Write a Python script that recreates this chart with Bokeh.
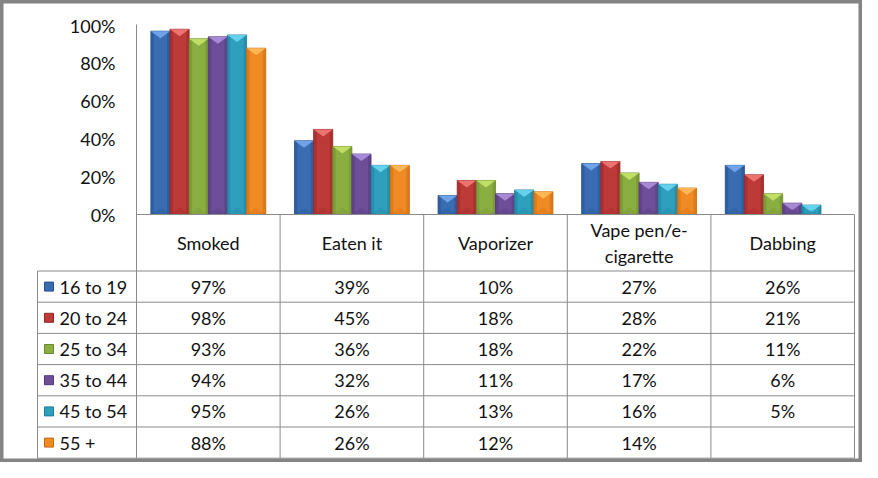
from bokeh.plotting import figure
from bokeh.models import Range1d
from bokeh.core.properties import value
from bokeh.embed import file_html
from bokeh.resources import INLINE

# ---------------- data ----------------
categories = ["Smoked", "Eaten it", "Vaporizer", "Vape pen/e-cigarette", "Dabbing"]
header_labels = ["Smoked", "Eaten it", "Vaporizer", "Vape pen/e-\ncigarette", "Dabbing"]
series_names = ["16 to 19", "20 to 24", "25 to 34", "35 to 44", "45 to 54", "55 +"]
v_16_19 = [0.97, 0.39, 0.10, 0.27, 0.26]
v_20_24 = [0.98, 0.45, 0.18, 0.28, 0.21]
v_25_34 = [0.93, 0.36, 0.18, 0.22, 0.11]
v_35_44 = [0.94, 0.32, 0.11, 0.17, 0.06]
v_45_54 = [0.95, 0.26, 0.13, 0.16, 0.05]
v_55_up = [0.88, 0.26, 0.12, 0.14, None]
series_values = [v_16_19, v_20_24, v_25_34, v_35_44, v_45_54, v_55_up]
y_ticks = [0.0, 0.2, 0.4, 0.6, 0.8, 1.0]
y_tick_labels = ["0%", "20%", "40%", "60%", "80%", "100%"]

# ---------------- styles ----------------
colors = ["#3A6CB2", "#BC3A38", "#8BAE42", "#6E4E99", "#2E9FBD", "#EF8A25"]
dark = ["#24508C", "#952827", "#6A8A2C", "#51377A", "#1C7C96", "#C8690F"]
light = ["#76AAEE", "#F27A78", "#C6E46C", "#AE90DC", "#6AD6F2", "#FFBA5C"]
FONT = value("Lato")
FSIZE = "18px"
TXT = "#111111"
GRID = "#8A8A8A"

# ---------------- layout (pixels) ----------------
W, H = 862, 462
PLOT_L, PLOT_R = 136, 854
ZERO_Y, TOP_Y = 214, 25
TABLE_L = 37
HEAD_B = 270.5
ROW_H = 31.2
n_cat = len(categories)
n_ser = len(series_names)
cat_w = (PLOT_R - PLOT_L) / n_cat
ppu_y = ZERO_Y - TOP_Y

p = figure(width=W, height=H, output_backend="svg", toolbar_location=None,
           x_axis_location=None, y_axis_location=None, min_border=0,
           x_range=Range1d(-PLOT_L / cat_w, (W - PLOT_L) / cat_w),
           y_range=Range1d(-(H - ZERO_Y) / ppu_y, ZERO_Y / ppu_y))
p.extra_x_ranges = {"px": Range1d(0, W)}
p.extra_y_ranges = {"px": Range1d(H, 0)}
p.grid.visible = False
p.background_fill_color = "white"
p.border_fill_color = "white"
p.outline_line_color = "#848484"
p.outline_line_width = 6

group_w = 0.8
bw = group_w / n_ser
side = 3.0 / cat_w
tri = 7.0 / ppu_y

# ---------------- bars ----------------
for j, (vals, c, dk, lt) in enumerate(zip(series_values, colors, dark, light)):
    xs, tops = [], []
    for i, v in enumerate(vals):
        if v is None:
            continue
        xs.append(i + 0.5 + (j - (n_ser - 1) / 2) * bw)
        tops.append(v)
    p.vbar(x=xs, top=tops, bottom=0, width=bw, fill_color=c, line_color=dk, line_width=0.8)
    # side bevels
    p.vbar(x=[x - bw / 2 + side / 2 for x in xs], top=tops, bottom=0, width=side,
           fill_color=dk, fill_alpha=0.45, line_color=None)
    p.vbar(x=[x + bw / 2 - side / 2 for x in xs], top=tops, bottom=0, width=side,
           fill_color=dk, fill_alpha=0.45, line_color=None)
    # top bevel triangle
    p.patches(xs=[[x - bw / 2, x + bw / 2, x] for x in xs],
              ys=[[t, t, t - min(tri, t * 0.8)] for t in tops],
              fill_color=lt, fill_alpha=0.9, line_color=None)
    # bottom bevel triangle
    p.patches(xs=[[x - bw / 2, x + bw / 2, x] for x in xs],
              ys=[[0, 0, min(tri, t * 0.5)] for t in tops],
              fill_color=dk, fill_alpha=0.25, line_color=None)

# ---------------- y axis labels ----------------
p.text(x=[115] * len(y_ticks), y=y_ticks, text=y_tick_labels, x_range_name="px",
       text_font=FONT, text_font_size=FSIZE, text_color=TXT,
       text_align="right", text_baseline="middle")

# ---------------- table lines ----------------
row_lines = [HEAD_B + k * ROW_H for k in range(n_ser + 1)]
x0, x1, y0, y1 = [], [], [], []
x0.append(PLOT_L); x1.append(PLOT_R); y0.append(ZERO_Y); y1.append(ZERO_Y)
for yy in row_lines:
    x0.append(TABLE_L); x1.append(PLOT_R); y0.append(yy); y1.append(yy)
x0.append(PLOT_L); x1.append(PLOT_L); y0.append(TOP_Y - 1); y1.append(row_lines[-1])
x0.append(TABLE_L); x1.append(TABLE_L); y0.append(HEAD_B); y1.append(row_lines[-1])
for i in range(1, n_cat + 1):
    xx = PLOT_L + i * cat_w
    x0.append(xx); x1.append(xx); y0.append(ZERO_Y); y1.append(row_lines[-1])
p.segment(x0=x0, y0=y0, x1=x1, y1=y1, x_range_name="px", y_range_name="px",
          line_color=GRID, line_width=1)

# ---------------- table header ----------------
p.text(x=[i + 0.5 for i in range(n_cat)], y=[(ZERO_Y + HEAD_B) / 2] * n_cat,
       text=header_labels, y_range_name="px",
       text_font=FONT, text_font_size=FSIZE, text_color=TXT,
       text_align="center", text_baseline="middle", text_line_height=1.2)

# ---------------- table rows ----------------
row_c = [HEAD_B + (k + 0.5) * ROW_H for k in range(n_ser)]
p.rect(x=[48.5] * n_ser, y=row_c, width=9, height=9, x_range_name="px", y_range_name="px",
       fill_color=colors, line_color=dark, line_width=1)
p.text(x=[59] * n_ser, y=row_c, text=series_names, x_range_name="px", y_range_name="px",
       text_font=FONT, text_font_size=FSIZE, text_color=TXT,
       text_align="left", text_baseline="middle")
cx, cy, ct = [], [], []
for k, vals in enumerate(series_values):
    for i, v in enumerate(vals):
        if v is None:
            continue
        cx.append(i + 0.5); cy.append(row_c[k]); ct.append(f"{round(v * 100)}%")
p.text(x=cx, y=cy, text=ct, y_range_name="px",
       text_font=FONT, text_font_size=FSIZE, text_color=TXT,
       text_align="center", text_baseline="middle")

open("out.html", "w").write(file_html(p, INLINE))
